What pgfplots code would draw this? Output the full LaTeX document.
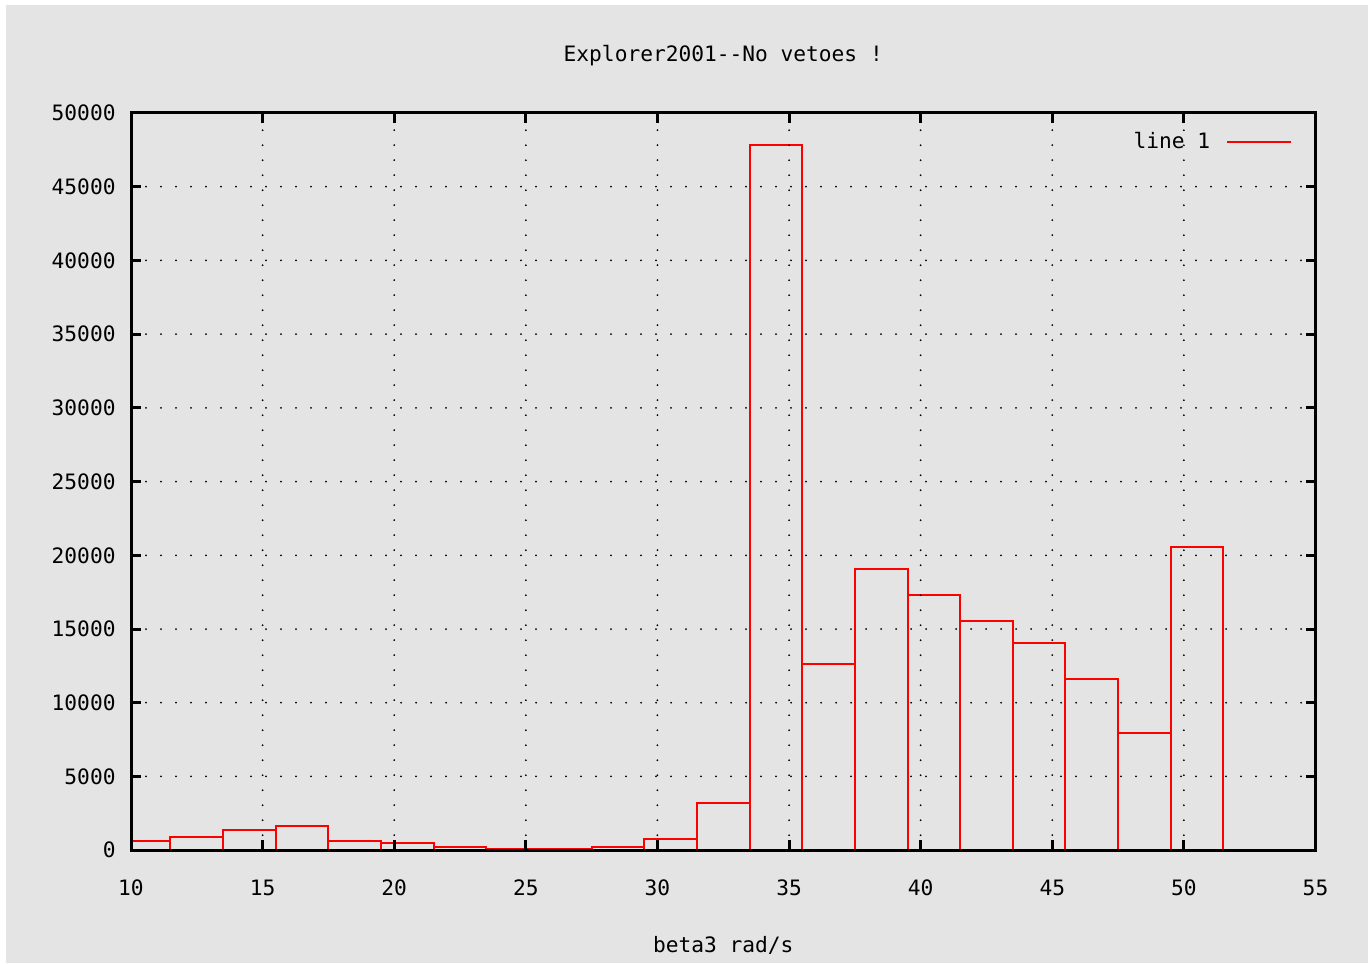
\documentclass[border=0pt]{standalone}
\usepackage{pgfplots}
\pgfplotsset{compat=1.18}
\usepackage{fontspec}
\setmainfont{DejaVu Sans Mono}
\definecolor{bggray}{RGB}{228,228,228}
\begin{document}
\fontsize{10.6pt}{12.7pt}\selectfont
\begin{tikzpicture}
\fill[white] (-65.5pt,-56.5pt) rectangle (618.5pt,425.1pt);
\fill[bggray] (-62.5pt,-56.5pt) rectangle (618.5pt,422.5pt);
\begin{axis}[
  at={(0,0)}, anchor=south west,
  scale only axis, width=592.25pt, height=368.65pt,
  xmin=10, xmax=55, ymin=0, ymax=50000,
  xtick={10,15,...,55}, ytick={0,5000,...,50000},
  scaled y ticks=false,
  /pgf/number format/assume math mode=true,
  /pgf/number format/1000 sep={},
  axis line style={line width=1.5pt, black},
  major tick length=5pt,
  every tick/.style={line width=1.5pt, black},
  tick align=inside,
  grid=major,
  major grid style={black, line width=1pt, line cap=round, dash pattern=on 0pt off 7.5pt},
  xticklabel style={anchor=center, yshift=-19pt},
  yticklabel style={anchor=east, xshift=-4pt},
  title={Explorer2001\mbox{-}\mbox{-}No vetoes !},
  title style={at={(0.5,1)}, anchor=center, yshift=22.8pt, inner sep=0pt},
  xlabel={beta3 rad/s},
  xlabel style={at={(0.5,0)}, anchor=center, yshift=-47.5pt, inner sep=0pt},
  legend style={draw=none, fill=none, at={(1,1)}, anchor=north east, xshift=-8.5pt, yshift=-5.5pt},
  legend plot pos=right,
  legend image code/.code={\draw[red, line width=1pt] (0pt,0pt) -- (32pt,0pt);},
  axis on top,
]
\addplot[ybar interval, draw=red, fill=none, line width=1pt] coordinates {
(9.5,610) (11.5,900) (13.5,1350) (15.5,1650) (17.5,630) (19.5,520)
(21.5,200) (23.5,70) (25.5,70) (27.5,200) (29.5,790) (31.5,3230)
(33.5,47850) (35.5,12660) (37.5,19050) (39.5,17300) (41.5,15560)
(43.5,14070) (45.5,11600) (47.5,7970) (49.5,20530) (51.5,0)
};
\addlegendentry{line 1\hspace*{6pt}}
\end{axis}
\end{tikzpicture}
\end{document}
